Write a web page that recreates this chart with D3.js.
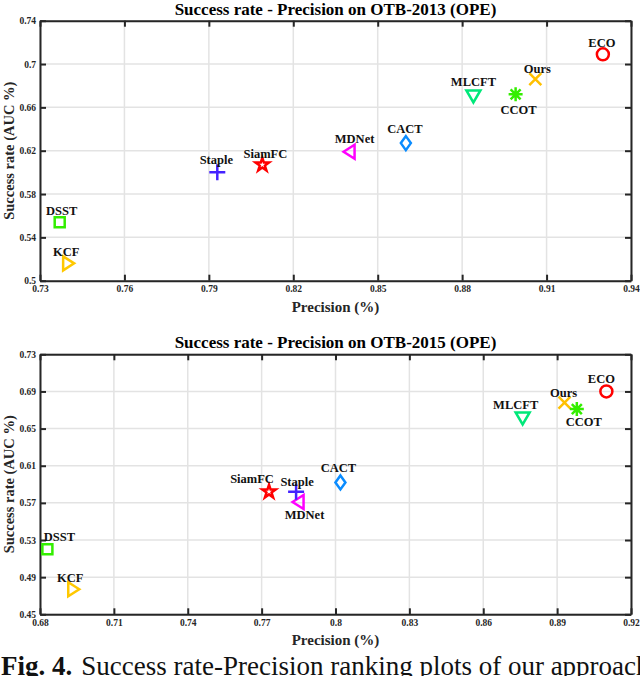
<!DOCTYPE html>
<html lang="en">
<head>
<meta charset="UTF-8">
<title>Success rate - Precision</title>
<script src="https://cdnjs.cloudflare.com/ajax/libs/d3/7.8.5/d3.min.js"></script>
<style>
  body { margin: 0; background: #fff; }
  text { font-family: "Liberation Serif", "Times New Roman", serif; }
</style>
</head>
<body>
<svg width="640" height="676"></svg>
<script>
    // trackers, same order in both plots
    const trackers = ["ECO", "Ours", "CCOT", "MLCFT", "CACT", "MDNet", "SiamFC", "Staple", "DSST", "KCF"];
    const markers  = ["o", "x", "*", "v", "d", "<", "p", "+", "s", ">"];
    const colors   = ["#ff0000", "#ffc000", "#33ee00", "#00e87a", "#0a8cff", "#ff00ff", "#ff0000", "#4422ff", "#33ee00", "#ffc800"];

    // OTB-2013
    const prec2013 = [0.930, 0.906, 0.899, 0.884, 0.860, 0.840, 0.809, 0.793, 0.737, 0.740];
    const auc2013  = [0.709, 0.686, 0.672, 0.671, 0.627, 0.619, 0.607, 0.600, 0.554, 0.516];
    const xTicks2013 = [0.73, 0.76, 0.79, 0.82, 0.85, 0.88, 0.91, 0.94];
    const yTicks2013 = [0.5, 0.54, 0.58, 0.62, 0.66, 0.7, 0.74];

    // OTB-2015
    const prec2015 = [0.910, 0.893, 0.898, 0.876, 0.802, 0.785, 0.773, 0.784, 0.683, 0.6935];
    const auc2015  = [0.690, 0.678, 0.671, 0.662, 0.592, 0.571, 0.582, 0.582, 0.520, 0.477];
    const xTicks2015 = [0.68, 0.71, 0.74, 0.77, 0.8, 0.83, 0.86, 0.89, 0.92];
    const yTicks2015 = [0.45, 0.49, 0.53, 0.57, 0.61, 0.65, 0.69, 0.73];

    // label offsets (px) from marker centre, per plot
    const labelOff2013 = [[-1,-12],[2,-11],[3,15],[0,-14],[-1,-14],[5,-13],[3,-11],[-1,-13],[2,-12],[-2,-12]];
    const labelOff2015 = [[-5,-13],[-1,-10],[7,13],[-7,-13],[-2,-15],[6,13],[-17,-13],[1,-10],[12,-13],[-3,-12]];

    const svg = d3.select("svg");

    const markerPath = (m) => {
        switch (m) {
            case "o": return circlePath(6);
            case "x": return "M-6,-6L6,6M-6,6L6,-6";
            case "*": return "M-7,0L7,0M0,-7L0,7M-5,-5L5,5M-5,5L5,-5";
            case "+": return "M-8,0L8,0M0,-8L0,8";
            case "s": return "M-5,-5L5,-5L5,5L-5,5Z";
            case "d": return "M0,-7L5,0L0,7L-5,0Z";
            case "v": return "M-7,-5L7,-5L0,7Z";
            case "<": return "M-6,0L5,-7L5,7Z";
            case ">": return "M6,0L-5,-7L-5,7Z";
            case "p": return d3.symbol(d3.symbolStar, 55)();
        }
    };
    function circlePath(r) {
        return `M${r},0A${r},${r} 0 1 1 ${-r},0A${r},${r} 0 1 1 ${r},0Z`;
    }

    function drawPlot(opt) {
        const { top, title, xs, ys, xTicks, yTicks, offs } = opt;
        const left = 40, right = 631, height = 260;
        const x = d3.scaleLinear().domain(d3.extent(xTicks)).range([left, right]);
        const y = d3.scaleLinear().domain(d3.extent(yTicks)).range([top + height, top]);
        const g = svg.append("g");

        // grid
        g.selectAll(".gx").data(xTicks).join("line")
            .attr("x1", d => x(d)).attr("x2", d => x(d))
            .attr("y1", top).attr("y2", top + height)
            .attr("stroke", "#e3e3e3").attr("stroke-width", 1.5);
        g.selectAll(".gy").data(yTicks).join("line")
            .attr("y1", d => y(d)).attr("y2", d => y(d))
            .attr("x1", left).attr("x2", right)
            .attr("stroke", "#e3e3e3").attr("stroke-width", 1.5);

        // axes with inward ticks on all four sides
        const bottomAx = d3.axisBottom(x).tickValues(xTicks).tickFormat(d3.format("")).tickSizeInner(-6).tickSizeOuter(0).tickPadding(5);
        const topAx = d3.axisTop(x).tickValues(xTicks).tickFormat("").tickSizeInner(-6).tickSizeOuter(0);
        const leftAx = d3.axisLeft(y).tickValues(yTicks).tickFormat(d3.format("")).tickSizeInner(-6).tickSizeOuter(0).tickPadding(4);
        const rightAx = d3.axisRight(y).tickValues(yTicks).tickFormat("").tickSizeInner(-6).tickSizeOuter(0);

        const axes = [
            [bottomAx, `translate(0,${top + height})`],
            [topAx, `translate(0,${top})`],
            [leftAx, `translate(${left},0)`],
            [rightAx, `translate(${right},0)`]
        ];
        axes.forEach(([ax, tr]) => {
            const a = g.append("g").attr("transform", tr).call(ax);
            a.select(".domain").attr("stroke", "#262626").attr("stroke-width", 2);
            a.selectAll(".tick line").attr("stroke", "#262626").attr("stroke-width", 2);
            a.selectAll("text").attr("fill", "#262626")
                .style("font-family", "'Liberation Serif', serif")
                .style("font-size", "9.5px").style("font-weight", "bold");
        });

        // title
        g.append("text").attr("x", (left + right) / 2).attr("y", top - 6)
            .attr("text-anchor", "middle").attr("font-size", "17px").attr("font-weight", "bold")
            .text(title);
        // axis labels
        g.append("text").attr("x", (left + right) / 2).attr("y", top + height + 31)
            .attr("text-anchor", "middle").attr("font-size", "15px").attr("font-weight", "bold")
            .attr("fill", "#262626")
            .text("Precision (%)");
        g.append("text")
            .attr("transform", `translate(14,${top + height / 2}) rotate(-90)`)
            .attr("text-anchor", "middle").attr("font-size", "14.5px").attr("font-weight", "bold")
            .attr("fill", "#262626")
            .text("Success rate (AUC %)");

        // markers
        trackers.forEach((name, i) => {
            const px = x(xs[i]), py = y(ys[i]);
            g.append("path")
                .attr("d", markerPath(markers[i]))
                .attr("transform", `translate(${px},${py})`)
                .attr("fill", "none")
                .attr("stroke", colors[i])
                .attr("stroke-width", 2.5)
                .attr("stroke-linejoin", "miter");
            g.append("text")
                .attr("x", px + offs[i][0]).attr("y", py + offs[i][1])
                .attr("dy", "0.35em")
                .attr("text-anchor", "middle")
                .attr("font-size", "12.5px").attr("font-weight", "bold")
                .attr("fill", "#111")
                .text(name);
        });
    }

    drawPlot({ top: 20.7, title: "Success rate - Precision on OTB-2013 (OPE)", xs: prec2013, ys: auc2013,
               xTicks: xTicks2013, yTicks: yTicks2013, offs: labelOff2013 });
    drawPlot({ top: 354.3, title: "Success rate - Precision on OTB-2015 (OPE)", xs: prec2015, ys: auc2015,
               xTicks: xTicks2015, yTicks: yTicks2015, offs: labelOff2015 });

    // figure caption (runs off the page edge, as in the source)
    const cap = svg.append("text").attr("x", 1).attr("y", 675).attr("font-size", "27px").attr("fill", "#111");
    cap.append("tspan").attr("font-weight", "bold").text("Fig. 4.");
    cap.append("tspan").attr("dx", "9").text("Success rate-Precision ranking plots of our approach");
</script>
</body>
</html>
